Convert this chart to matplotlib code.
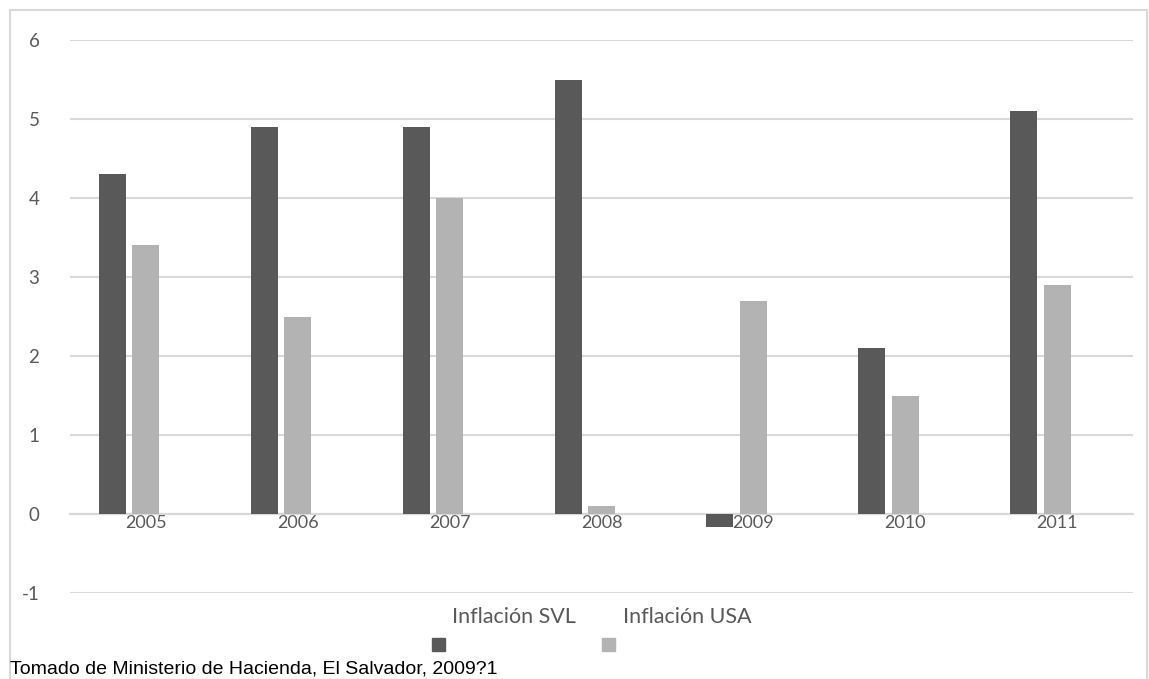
import matplotlib.pyplot as plt
from matplotlib.patches import Rectangle
import numpy as np

plt.rcParams['font.family'] = ['Lato', 'DejaVu Sans']
plt.rcParams['axes.unicode_minus'] = False

# Datos
years = ['2005', '2006', '2007', '2008', '2009', '2010', '2011']
infl_svl = [4.3, 4.9, 4.9, 5.5, -0.17, 2.1, 5.1]
infl_usa = [3.4, 2.5, 4.0, 0.1, 2.7, 1.5, 2.9]
y_ticks = [-1, 0, 1, 2, 3, 4, 5, 6]

W, H = 1149, 679
fig = plt.figure(figsize=(W / 100, H / 100), dpi=100)
ax = fig.add_axes([70 / W, 1 - 593 / H, (1133 - 70) / W, (593 - 40) / H])

x = np.arange(len(years))
bw = 0.178
ax.bar(x - 0.22, infl_svl, bw, color='#595959', zorder=3)
ax.bar(x, infl_usa, bw, color='#b3b3b3', zorder=3)

ax.set_xlim(-0.5, len(years) - 0.5)
ax.set_ylim(-1, 6)
ax.set_yticks(y_ticks)
ax.yaxis.grid(True, color='#d9d9d9', linewidth=1.5, zorder=0)
ax.set_axisbelow(True)

for s in ['top', 'right', 'left']:
    ax.spines[s].set_visible(False)
ax.spines['bottom'].set_position(('data', 0))
ax.spines['bottom'].set_color('#d9d9d9')
ax.spines['bottom'].set_linewidth(1.5)

ax.set_xticks(x)
ax.set_xticklabels(years)
ax.tick_params(axis='x', length=0, pad=1, labelsize=13, labelcolor='#595959')
ax.tick_params(axis='y', length=0, pad=22, labelsize=13.5, labelcolor='#595959')

# Leyenda manual
fig.text(514 / W, 1 - 617 / H, 'Inflación SVL', ha='center', va='center',
         fontsize=15.5, color='#595959')
fig.text(687 / W, 1 - 617 / H, 'Inflación USA', ha='center', va='center',
         fontsize=15.5, color='#595959')
fig.patches.append(Rectangle((432 / W, 1 - 651 / H), 13 / W, 13 / H,
                             transform=fig.transFigure, color='#595959'))
fig.patches.append(Rectangle((602 / W, 1 - 651 / H), 13 / W, 13 / H,
                             transform=fig.transFigure, color='#b3b3b3'))

# Marco del gráfico
fig.patches.append(Rectangle((10 / W, -0.05), (1147 - 10) / W, 1.05 - 10 / H,
                             transform=fig.transFigure, fill=False,
                             edgecolor='#d9d9d9', linewidth=1.5))

fig.text(10 / W, 1 / H, 'Tomado de Ministerio de Hacienda, El Salvador, 2009?1',
         ha='left', va='bottom', fontsize=14, color='black', family='Liberation Sans')

fig.savefig('out.png', dpi=100)
